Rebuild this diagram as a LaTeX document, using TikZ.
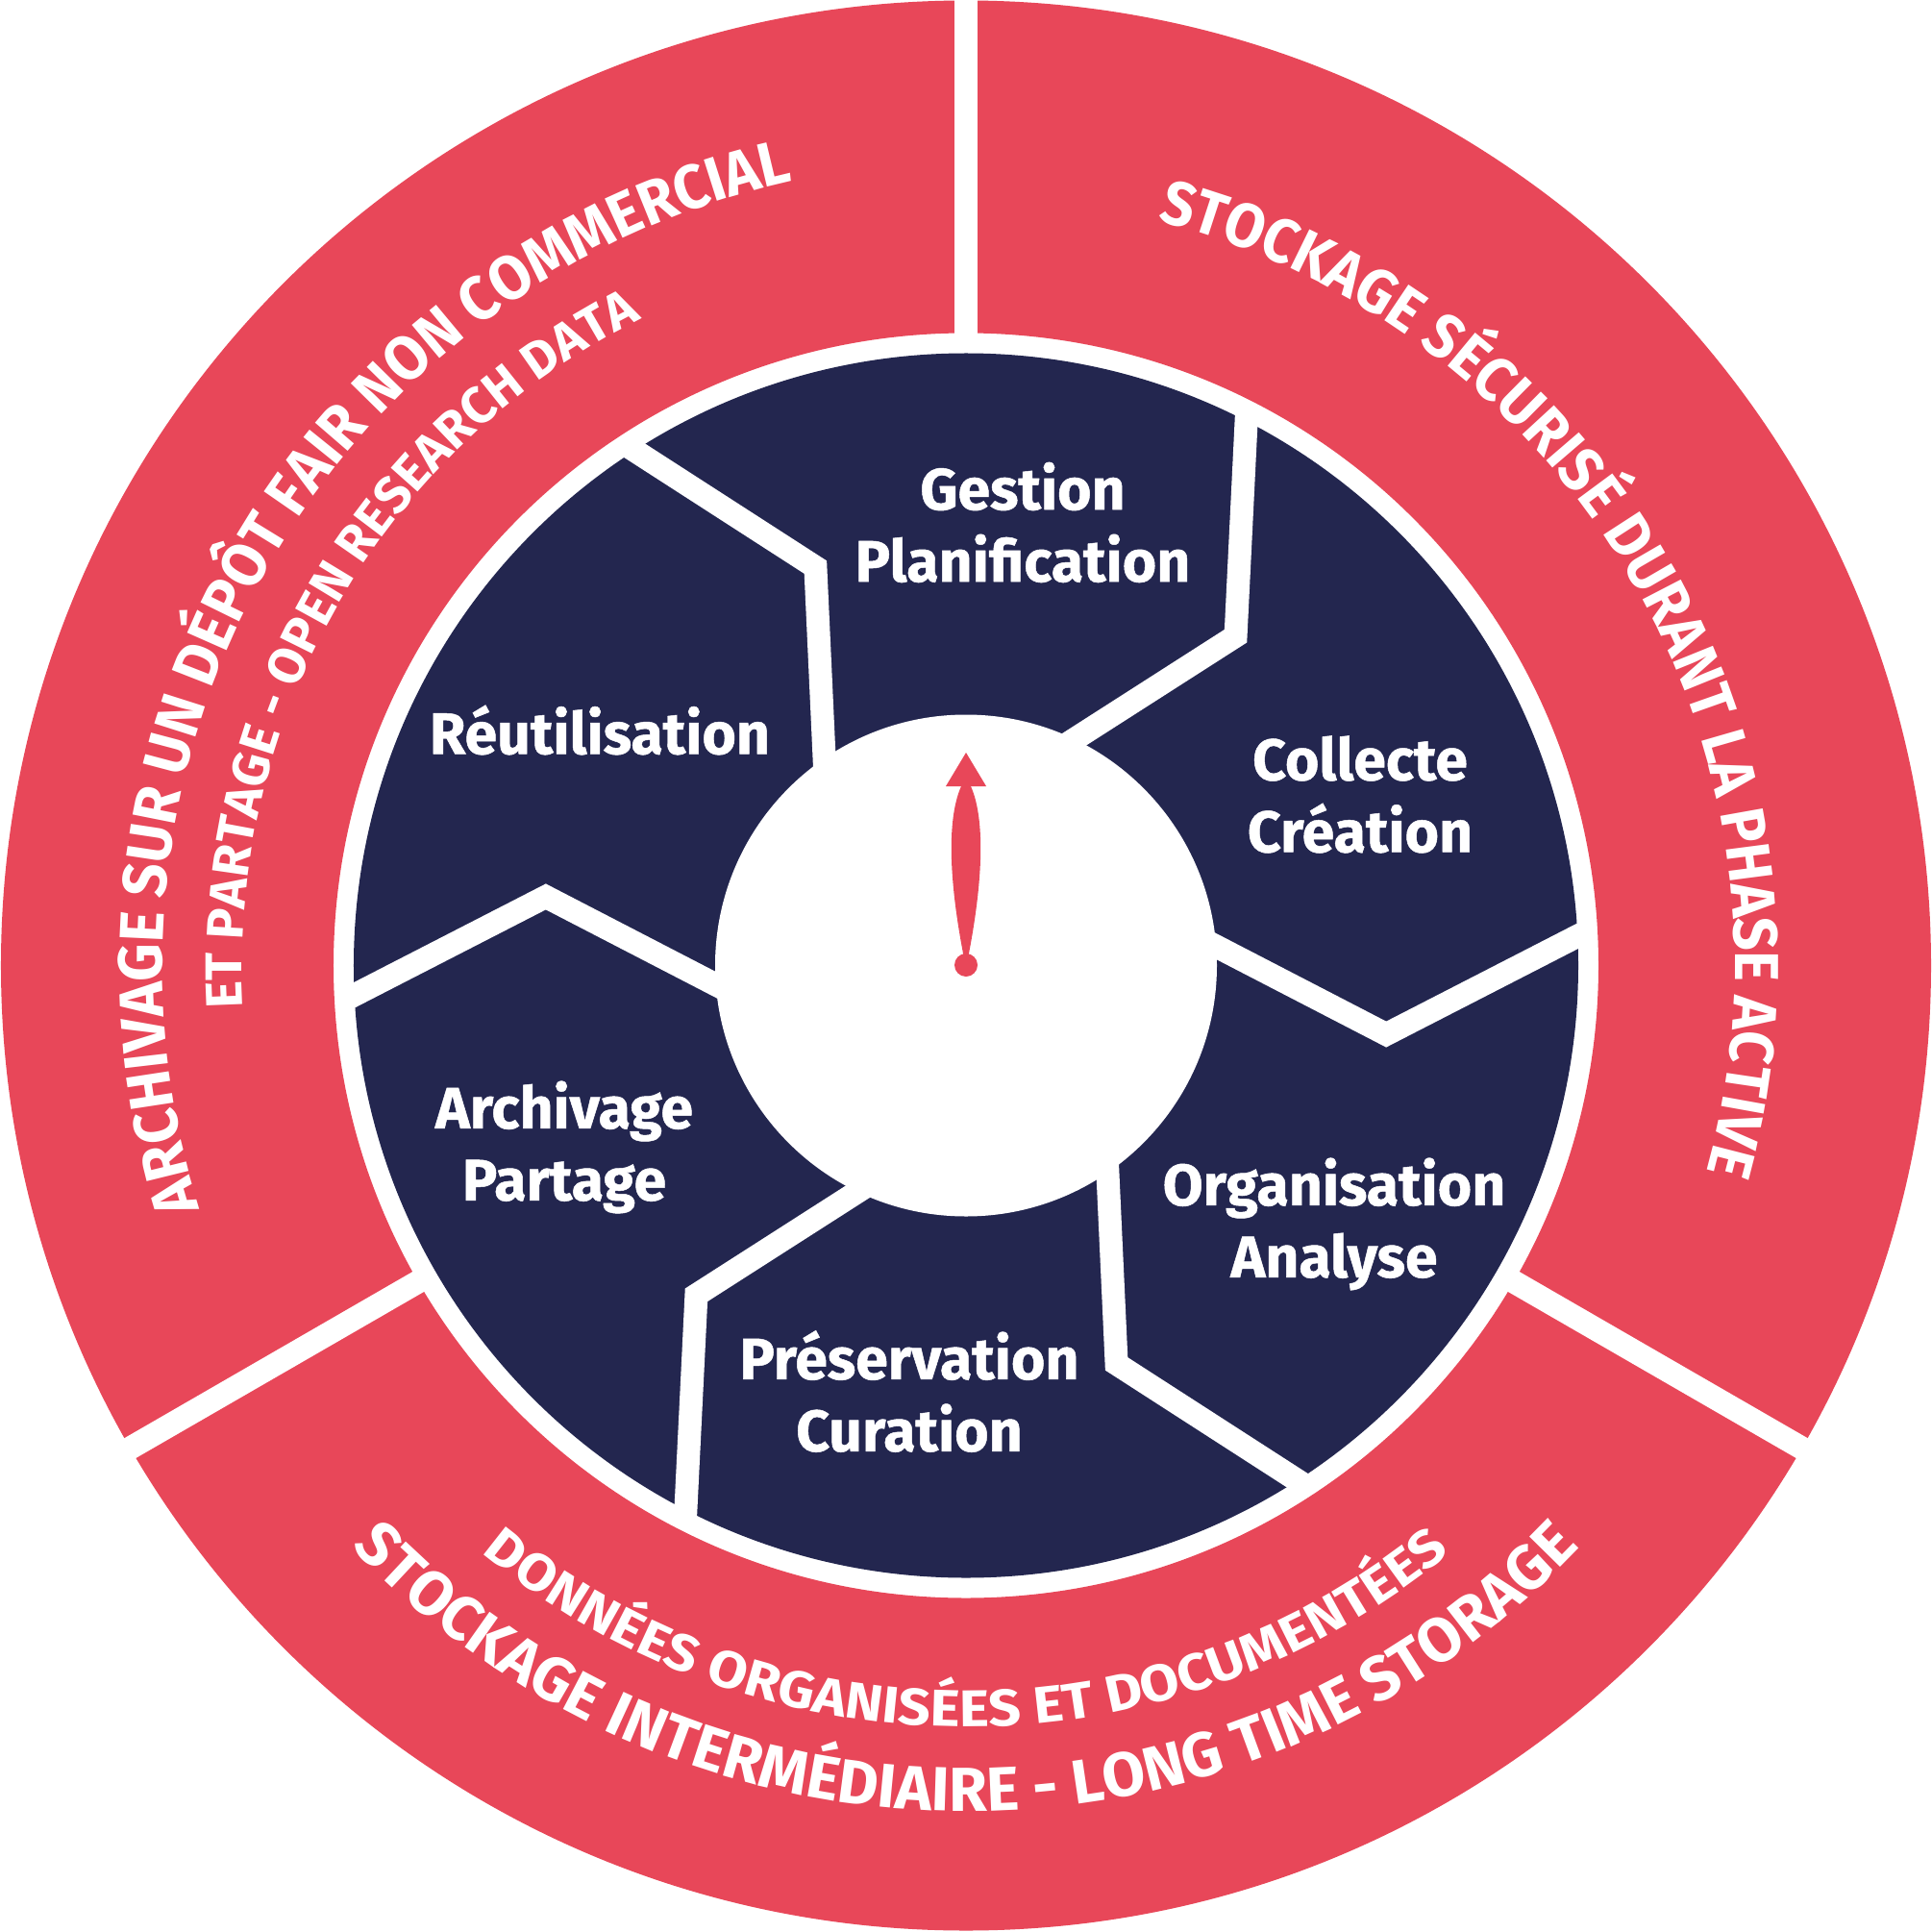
\documentclass[tikz,border=0pt]{standalone}
\usepackage{fontspec}
\setmainfont{Fira Sans}
\newfontfamily\lblfont{Fira Sans}[FakeBold=0.8]
\newfontfamily\rfTLo{Fira Sans}[FakeStretch=0.95]
\newfontfamily\rfTLi{Fira Sans}[FakeStretch=1.0]
\newfontfamily\rfTR{Fira Sans}[FakeStretch=0.93]
\newfontfamily\rfBo{Fira Sans}[FakeStretch=1.0]
\newfontfamily\rfBi{Fira Sans}[FakeStretch=1.1]
\usetikzlibrary{decorations.text}
\definecolor{ringred}{HTML}{E84759}
\definecolor{navyblue}{HTML}{23264F}
\tikzset{
  lbl/.style={text=white, font=\lblfont\fontsize{17.3}{21.3}\selectfont\bfseries, align=center, inner sep=0pt},
  gapline/.style={white, line width=0.24cm},
  sepline/.style={white, line width=0.24cm, line join=miter},
  ringtext/.style={decorate, decoration={text along path, text align=center, text color=white, text={#1}}}
}
\begin{document}
\begin{tikzpicture}
\useasboundingbox (-10.05,-10.045) rectangle (10.05,10.045);
\fill[white] (-10.05,-10.045) rectangle (10.05,10.045);
% red ring
\fill[ringred, even odd rule] (0,0) circle (10.04) (0,0) circle (6.58);
\foreach \a in {90,210,330} \draw[gapline] (\a:6.4) -- (\a:10.3);
% navy disc
\fill[navyblue] (0,0) circle (6.37);
% chevron separators
\foreach \k in {0,...,5} {
  \begin{scope}[rotate=60*\k]
    \draw[sepline] (3.24:6.49) -- (-9.3:4.43) -- (9.5:2.29);
  \end{scope}
}
% inner white disc
\fill[white] (0,0) circle (2.61);
% needle
\fill[ringred] (0,0.005) circle (0.12);
\fill[ringred] (-0.05,1.865) .. controls (-0.19,1.55) and (-0.19,0.95) .. (-0.025,0.1) -- (0.025,0.1) .. controls (0.19,0.95) and (0.19,1.55) .. (0.05,1.865) -- cycle;
\fill[ringred] (-0.21,1.865) -- (0,2.215) -- (0.21,1.865) -- cycle;
% segment labels
\node[lbl] (gestion) at (0.59,4.61) {Gestion\\Planification};
\node[lbl] (collecte) at (4.10,1.78) {Collecte\\Création};
\node[lbl] (organisation) at (3.83,-2.69) {Organisation\\Analyse};
\node[lbl] (preservation) at (-0.59,-4.43) {Préservation\\Curation};
\node[lbl] (archivage) at (-4.18,-1.89) {Archivage\\Partage};
\node[lbl] (reutilisation) at (-3.81,2.45) {Réutilisation};
% ring texts
\path[ringtext={|\rfTLo\bfseries\fontsize{18.4}{20}\selectfont|ARCHIVAGE SUR UN DÉPÔT FAIR NON COMMERCIAL}] (210:8.36) arc[start angle=210, end angle=90, radius=8.36];
\path[ringtext={|\rfTLi\bfseries\fontsize{15.3}{17}\selectfont|ET PARTAGE - OPEN RESEARCH DATA}] (210:7.53) arc[start angle=210, end angle=90, radius=7.53];
\path[ringtext={|\rfTR\bfseries\fontsize{18.4}{20}\selectfont|STOCKAGE SÉCURISÉ DURANT LA PHASE ACTIVE}] (90:8.0) arc[start angle=90, end angle=-30, radius=8.0];
\path[ringtext={|\rfBo\bfseries\fontsize{18.4}{20}\selectfont|STOCKAGE INTERMÉDIAIRE - LONG TIME STORAGE}] (210:8.80) arc[start angle=210, end angle=330, radius=8.80];
\path[ringtext={|\rfBi\bfseries\fontsize{15.3}{17}\selectfont|DONNÉES ORGANISÉES ET DOCUMENTÉES}] (210:7.92) arc[start angle=210, end angle=330, radius=7.92];
\end{tikzpicture}
\end{document}
